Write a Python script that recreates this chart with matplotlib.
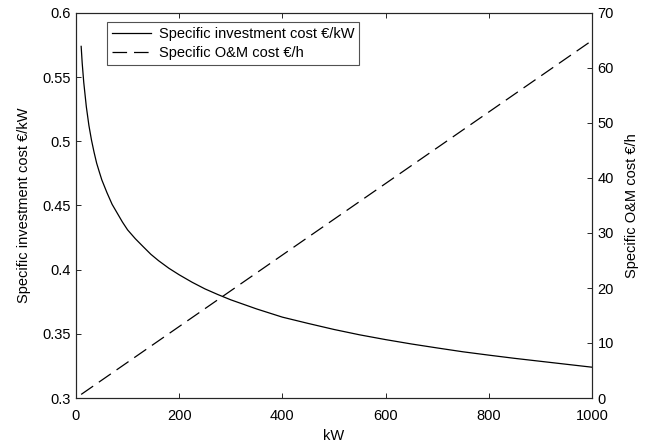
import matplotlib
matplotlib.use("Agg")
import matplotlib.pyplot as plt
from matplotlib.ticker import FuncFormatter

plt.rcParams['font.family'] = ['Liberation Sans', 'DejaVu Sans']
plt.rcParams['lines.scale_dashes'] = False

# Data
power_kw = [10, 12, 15, 20, 25, 30, 35, 40, 45, 50, 60, 70, 80, 90, 100, 115,
            130, 145, 160, 180, 200, 225, 250, 275, 300, 350, 400, 450, 500,
            550, 600, 650, 700, 750, 800, 850, 900, 950, 1000]
invest_cost = [0.574, 0.561, 0.546, 0.527, 0.5124, 0.501, 0.4915, 0.483,
               0.4764, 0.470, 0.460, 0.4509, 0.444, 0.4371, 0.431, 0.4241,
               0.418, 0.412, 0.407, 0.4011, 0.396, 0.3902, 0.385, 0.3806,
               0.3765, 0.3694, 0.363, 0.3581, 0.3534, 0.3492, 0.3455, 0.3421,
               0.339, 0.336, 0.3334, 0.3309, 0.3286, 0.3263, 0.324]
om_kw = [10, 1000]
om_cost = [0.65, 65.0]

xticks = [0, 200, 400, 600, 800, 1000]
left_ticks = [0.3, 0.35, 0.4, 0.45, 0.5, 0.55, 0.6]
right_ticks = [0, 10, 20, 30, 40, 50, 60, 70]

fig = plt.figure(figsize=(6.55, 4.48), dpi=100)
ax = fig.add_axes([76/655, 50/448, 516/655, 385/448])
ax2 = ax.twinx()

axcol = '#262626'
l1, = ax.plot(power_kw, invest_cost, color='black', lw=0.9,
              label='Specific investment cost €/kW')
l2, = ax2.plot(om_kw, om_cost, color='black', lw=0.9, linestyle=(0, (10.5, 5)),
               label='Specific O&M cost €/h')

ax.set_xlim(0, 1000)
ax.set_ylim(0.3, 0.6)
ax2.set_ylim(0, 70)
ax.set_xticks(xticks)
ax.set_yticks(left_ticks)
ax2.set_yticks(right_ticks)
ax.yaxis.set_major_formatter(FuncFormatter(lambda v, p: ('%g' % round(v, 4))))

fs = 10.5
for a in (ax, ax2):
    for s in a.spines.values():
        s.set_color(axcol)
        s.set_linewidth(0.8)
ax.tick_params(axis='y', direction='in', length=3.5, width=0.7, color=axcol,
               labelsize=fs, pad=4)
ax.tick_params(axis='x', direction='in', length=3.5, width=0.7, color=axcol,
               labelsize=fs, top=True, pad=8)
ax2.tick_params(axis='y', direction='in', length=3.5, width=0.7, color=axcol,
                labelsize=fs, pad=4)

ax.set_xlabel('kW', fontsize=fs, labelpad=4)
ax.set_ylabel('Specific investment cost €/kW', fontsize=fs, labelpad=8)
ax2.set_ylabel('Specific O&M cost €/h', fontsize=fs, labelpad=8)

leg = ax.legend(handles=[l1, l2], loc='upper left', bbox_to_anchor=(0.06, 0.977),
                fontsize=fs, frameon=True, fancybox=False, borderpad=0.35,
                handlelength=2.7, handletextpad=0.5, labelspacing=0.32,
                borderaxespad=0.0)
leg.get_frame().set_edgecolor(axcol)
leg.get_frame().set_linewidth(0.8)

fig.savefig('out.png', dpi=100)
